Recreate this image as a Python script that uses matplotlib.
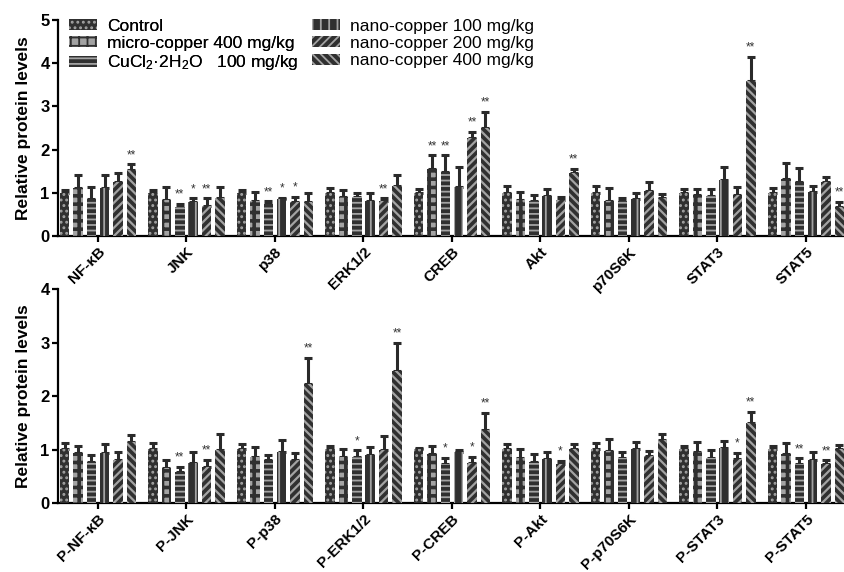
import matplotlib
matplotlib.use('Agg')
import matplotlib.pyplot as plt
from matplotlib.patches import Patch
import numpy as np

plt.rcParams['font.family'] = ['Liberation Sans', 'DejaVu Sans']
plt.rcParams['mathtext.fontset'] = 'custom'
plt.rcParams['mathtext.rm'] = 'Liberation Sans'
plt.rcParams['mathtext.default'] = 'regular'
plt.rcParams['hatch.linewidth'] = 1.3

# data
series = ['Control', 'micro-copper 400 mg/kg', 'CuCl$_2$·2H$_2$O   100 mg/kg',
          'nano-copper 100 mg/kg', 'nano-copper 200 mg/kg', 'nano-copper 400 mg/kg']

top_labels = ['NF-κB', 'JNK', 'p38', 'ERK1/2', 'CREB', 'Akt', 'p70S6K', 'STAT3', 'STAT5']
top_mean = [
    [1.00, 1.00, 1.00, 1.00, 1.00, 1.00, 1.00, 1.00, 1.00],
    [1.12, 0.83, 0.82, 0.91, 1.56, 0.83, 0.81, 0.94, 1.33],
    [0.85, 0.68, 0.75, 0.91, 1.49, 0.80, 0.81, 0.92, 1.25],
    [1.10, 0.79, 0.85, 0.81, 1.14, 0.92, 0.86, 1.29, 1.02],
    [1.26, 0.70, 0.79, 0.80, 2.28, 0.83, 1.04, 0.96, 1.24],
    [1.52, 0.88, 0.79, 1.15, 2.49, 1.46, 0.87, 3.58, 0.68],
]
top_err = [
    [0.07, 0.07, 0.07, 0.10, 0.09, 0.16, 0.16, 0.09, 0.10],
    [0.30, 0.31, 0.20, 0.15, 0.31, 0.19, 0.31, 0.15, 0.36],
    [0.29, 0.07, 0.05, 0.09, 0.38, 0.15, 0.06, 0.17, 0.33],
    [0.31, 0.08, 0.03, 0.19, 0.46, 0.16, 0.14, 0.31, 0.13],
    [0.19, 0.17, 0.11, 0.07, 0.13, 0.07, 0.21, 0.17, 0.13],
    [0.14, 0.25, 0.21, 0.26, 0.38, 0.10, 0.10, 0.56, 0.11],
]
top_stars = [
    ['', '', '', '', '', '', '', '', ''],
    ['', '', '', '', '**', '', '', '', ''],
    ['', '**', '**', '', '**', '', '', '', ''],
    ['', '*', '*', '', '', '', '', '', ''],
    ['', '**', '*', '**', '**', '', '', '', ''],
    ['**', '', '', '', '**', '**', '', '**', '**'],
]

bot_labels = ['P-NF-κB', 'P-JNK', 'P-p38', 'P-ERK1/2', 'P-CREB', 'P-Akt', 'P-p70S6K', 'P-STAT3', 'P-STAT5']
bot_mean = [
    [1.01, 1.01, 1.01, 1.01, 1.01, 1.01, 1.01, 1.01, 1.01],
    [0.93, 0.65, 0.87, 0.86, 0.92, 0.84, 0.98, 0.96, 0.92],
    [0.78, 0.59, 0.81, 0.87, 0.73, 0.78, 0.84, 0.84, 0.73],
    [0.93, 0.75, 0.96, 0.90, 0.95, 0.82, 1.01, 1.03, 0.80],
    [0.81, 0.68, 0.80, 1.00, 0.75, 0.73, 0.88, 0.83, 0.74],
    [1.15, 1.00, 2.22, 2.47, 1.37, 1.01, 1.18, 1.50, 1.01],
]
bot_err = [
    [0.12, 0.12, 0.09, 0.06, 0.02, 0.09, 0.11, 0.06, 0.06],
    [0.14, 0.15, 0.18, 0.16, 0.15, 0.18, 0.22, 0.18, 0.21],
    [0.12, 0.09, 0.09, 0.12, 0.12, 0.14, 0.12, 0.16, 0.11],
    [0.18, 0.21, 0.22, 0.15, 0.04, 0.13, 0.14, 0.13, 0.15],
    [0.14, 0.13, 0.13, 0.26, 0.12, 0.06, 0.10, 0.11, 0.06],
    [0.13, 0.30, 0.49, 0.53, 0.32, 0.09, 0.11, 0.21, 0.07],
]
bot_stars = [
    ['', '', '', '', '', '', '', '', ''],
    ['', '', '', '', '', '', '', '', ''],
    ['', '**', '', '*', '*', '', '', '', '**'],
    ['', '', '', '', '', '', '', '', ''],
    ['', '**', '', '', '*', '*', '', '*', '**'],
    ['', '', '**', '**', '**', '', '', '**', ''],
]

dark = '#303030'
light = '#a3a3a3'
faces = [dark, light, dark, dark, dark, dark]
hatch_cols = [light, dark, light, light, light, light]
hatches = ['...', '++', '---', '||', '////', '\\\\\\\\']
hatch_lw = [1.3, 2.6, 1.3, 1.3, 1.6, 1.6]

W, H = 844, 572
fig = plt.figure(figsize=(W / 100, H / 100), dpi=100)
ax1 = fig.add_axes([58 / W, 1 - 236 / H, (W - 58) / W, (236 - 20) / H])
ax2 = fig.add_axes([58 / W, 1 - 503.3 / H, (W - 58) / W, (503.3 - 289) / H])
ax2.patch.set_alpha(0)

bw = 0.107
step = 0.151


def set_hlw(patch, lw):
    if hasattr(patch, 'set_hatch_linewidth'):
        patch.set_hatch_linewidth(lw)


def draw_panel(ax, labels, means, errs, stars, ymax):
    x = np.arange(len(labels))
    for k in range(len(series)):
        xs = x + (k - 2.5) * step
        with plt.rc_context({'hatch.linewidth': hatch_lw[k]}):
            bars = ax.bar(xs, means[k], bw, color=faces[k], edgecolor=hatch_cols[k],
                          hatch=hatches[k], linewidth=0, zorder=3)
        for b in bars:
            set_hlw(b, hatch_lw[k])
        ax.errorbar(xs, means[k], yerr=[np.zeros(len(labels)), errs[k]], fmt='none',
                    ecolor='#2a2a2a', elinewidth=2.2, capsize=2.6, capthick=2.2, zorder=2)
        for i, s in enumerate(stars[k]):
            if s:
                ax.annotate(s, (xs[i], means[k][i] + errs[k][i]), xytext=(0, 4.5),
                            textcoords='offset points', ha='center', va='baseline',
                            fontsize=8.5, color='#333333', annotation_clip=False)
    ax.set_xlim(-0.452, 8.43)
    ax.set_ylim(0, ymax)
    ax.set_yticks(range(ymax + 1))
    ax.set_xticks(x)
    ax.set_xticklabels(labels, rotation=45, ha='right', va='top', rotation_mode='anchor',
                       fontsize=11, fontweight='bold')
    for t in ax.get_yticklabels():
        t.set_fontweight('bold')
        t.set_fontsize(12)
    ax.spines['top'].set_visible(False)
    ax.spines['right'].set_visible(False)
    for sp in ['left', 'bottom']:
        ax.spines[sp].set_linewidth(1.6)
    ax.tick_params(axis='both', length=4, width=1.6, pad=2)
    ax.set_ylabel('Relative protein levels', fontsize=12.5, fontweight='bold')
    ax.yaxis.set_label_coords(-0.034, 0.5)


draw_panel(ax1, top_labels, top_mean, top_err, top_stars, 5)
draw_panel(ax2, bot_labels, bot_mean, bot_err, bot_stars, 4)

handles = []
for k in range(len(series)):
    with plt.rc_context({'hatch.linewidth': hatch_lw[k]}):
        h = Patch(facecolor=faces[k], edgecolor=hatch_cols[k], hatch=hatches[k], linewidth=0)
    set_hlw(h, hatch_lw[k])
    handles.append(h)

leg_kw = dict(loc='upper left', frameon=False, fontsize=12.5, handlelength=1.6,
              handleheight=0.6, handletextpad=0.6, labelspacing=0.12, borderpad=0,
              borderaxespad=0)
leg1 = fig.legend(handles[:3], series[:3], bbox_to_anchor=(69 / W, 1 - 19 / H), **leg_kw)
leg2 = fig.legend(handles[3:], series[3:], bbox_to_anchor=(312 / W, 1 - 19 / H), **leg_kw)
fig.add_artist(leg1)

fig.savefig('out.png', dpi=100)
